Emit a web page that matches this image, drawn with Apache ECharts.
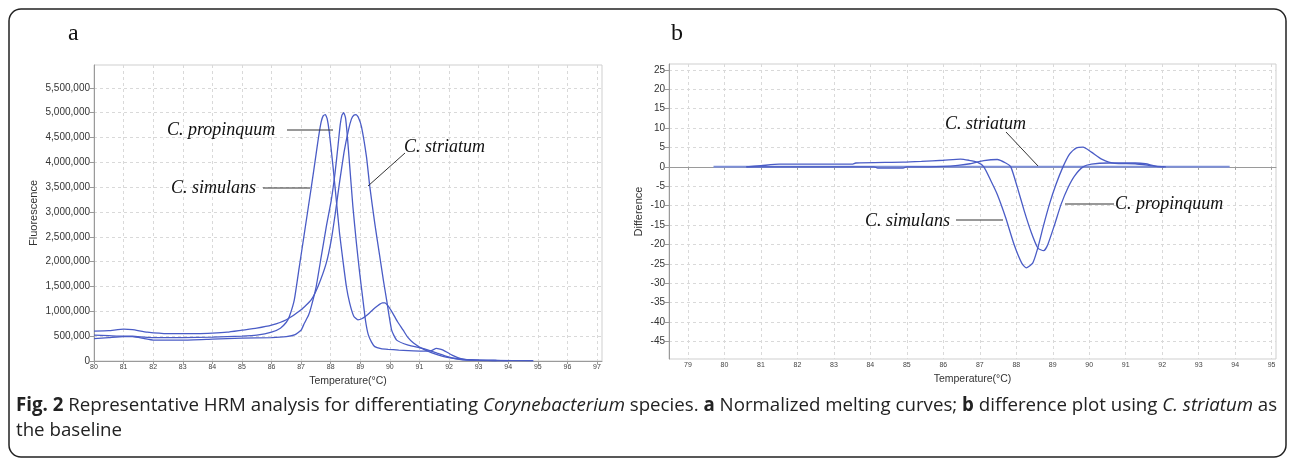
<!DOCTYPE html>
<html><head><meta charset="utf-8">
<script src="https://cdn.jsdelivr.net/npm/echarts@6/dist/echarts.min.js"></script>
<style>html,body{margin:0;padding:0;background:#fff}#c{width:1292px;height:459px}</style>
</head><body><div id="c"></div>
<script>
// ---- Panel a: melting curves (temperature °C, fluorescence) ----
const xTicksA = [80,81,82,83,84,85,86,87,88,89,90,91,92,93,94,95,96,97];
const yTicksA = [0,500000,1000000,1500000,2000000,2500000,3000000,3500000,4000000,4500000,5000000,5500000];
// values in millions
const simulansA = [[80,0.52],[80.5,0.51],[81,0.50],[81.3,0.50],[81.7,0.48],[82,0.47],[83,0.47],[84,0.48],[85,0.50],[85.5,0.52],[86,0.58],[86.3,0.66],[86.5,0.78],[86.6,0.89],[86.77,1.23],[86.94,1.90],[87.11,2.57],[87.34,3.48],[87.51,4.18],[87.6,4.55],[87.68,4.82],[87.75,4.94],[87.82,4.96],[87.88,4.88],[87.95,4.62],[88.08,3.91],[88.19,3.24],[88.3,2.57],[88.41,2.04],[88.53,1.5],[88.64,1.17],[88.78,0.90],[88.92,0.83],[89.05,0.85],[89.2,0.91],[89.35,0.99],[89.5,1.07],[89.65,1.14],[89.75,1.17],[89.83,1.17],[89.95,1.10],[90.1,0.96],[90.25,0.80],[90.45,0.62],[90.6,0.48],[90.8,0.36],[91.0,0.28],[91.2,0.22],[91.4,0.17],[91.65,0.12],[91.9,0.08],[92.2,0.05],[92.5,0.03],[93.0,0.015],[93.6,0.01]];
const propinquumA = [[80,0.45],[80.5,0.47],[81,0.49],[81.3,0.49],[81.7,0.45],[82,0.42],[83,0.42],[84,0.44],[85,0.46],[86,0.47],[86.5,0.49],[86.8,0.53],[87.0,0.62],[87.11,0.76],[87.25,0.92],[87.34,1.09],[87.51,1.50],[87.68,2.10],[87.85,2.70],[88.02,3.24],[88.15,3.8],[88.25,4.35],[88.32,4.75],[88.38,4.95],[88.44,5.0],[88.5,4.9],[88.56,4.55],[88.64,3.95],[88.75,3.11],[88.87,2.37],[88.98,1.77],[89.09,1.23],[89.18,0.8],[89.27,0.53],[89.38,0.38],[89.49,0.29],[89.7,0.25],[89.94,0.235],[90.3,0.22],[90.62,0.21],[91.07,0.20],[91.4,0.21],[91.57,0.255],[91.7,0.24],[91.8,0.22],[92.1,0.12],[92.4,0.05],[92.8,0.02],[93.5,0.01],[94.85,0.005]];
const striatumA = [[80,0.60],[80.5,0.61],[81,0.64],[81.3,0.63],[81.8,0.58],[82.5,0.55],[83.5,0.55],[84,0.56],[84.5,0.58],[85,0.62],[85.5,0.66],[86,0.72],[86.5,0.83],[87,1.03],[87.34,1.23],[87.57,1.50],[87.85,1.97],[88.02,2.44],[88.15,2.95],[88.3,3.6],[88.45,4.2],[88.6,4.65],[88.7,4.87],[88.78,4.95],[88.86,4.96],[88.94,4.9],[89.04,4.72],[89.21,4.11],[89.32,3.52],[89.49,2.77],[89.66,2.10],[89.78,1.63],[89.89,1.23],[90.06,0.62],[90.23,0.42],[90.62,0.32],[91.07,0.26],[91.3,0.22],[91.6,0.16],[91.95,0.09],[92.3,0.04],[92.6,0.02],[93.5,0.01],[94.0,0.005]];

// ---- Panel b: difference plot (baseline C. striatum) ----
const xTicksB = [79,80,81,82,83,84,85,86,87,88,89,90,91,92,93,94,95];
const yTicksB = [-45,-40,-35,-30,-25,-20,-15,-10,-5,0,5,10,15,20,25];
const striatumB = [[79.7,0],[93.85,0]];
const simulansB = [[80.6,0],[81.0,0.3],[81.5,0.7],[83.5,0.7],[83.6,1.0],[84.9,1.2],[85.4,1.4],[86.0,1.7],[86.47,2.0],[86.7,1.7],[86.93,1.2],[87.11,0],[87.3,-3.5],[87.48,-7.1],[87.71,-13.1],[87.94,-20.0],[88.15,-24.8],[88.27,-26.0],[88.45,-24.8],[88.59,-20.9],[88.73,-15.7],[88.91,-9.6],[89.09,-4.5],[89.28,0],[89.46,3.3],[89.65,4.9],[89.83,5.1],[90.06,3.8],[90.34,2.0],[90.7,0.9],[91.26,0.8],[91.63,0.4],[91.9,0.05],[92.05,0]];
const propinquumB = [[80.6,0],[81,0],[84.1,0],[84.2,-0.3],[84.9,-0.3],[85.0,0],[85.6,0],[86,0.1],[86.4,0.4],[86.73,0.8],[87.11,1.6],[87.48,1.9],[87.71,1.0],[87.85,0],[88.03,-5.3],[88.22,-11.4],[88.4,-16.6],[88.59,-20.9],[88.75,-21.6],[88.86,-20.1],[89.05,-14.9],[89.23,-9.6],[89.42,-5.3],[89.6,-2.3],[89.83,0],[90.06,0.7],[90.52,1.0],[91.26,1.0],[91.54,0.8],[91.81,0.2],[92.1,0]];

const M = 1000000;
const toM = arr => arr.map(p => [p[0], p[1] * M]);

const LINE = '#4a5cc6';
const gridLine = { show: true, lineStyle: { color: '#d9d9d9', type: [3, 3], width: 1 } };
const axisLineS = { show: true, lineStyle: { color: '#9a9a9a', width: 1 } };

function xAxisDef(gridIndex, min, max, ticks) {
  return {
    type: 'value', gridIndex, min, max,
    name: 'Temperature(°C)', nameLocation: 'middle', nameGap: 15,
    nameTextStyle: { fontFamily: 'Liberation Sans', fontSize: 10.5, color: '#333' },
    axisLine: axisLineS,
    axisTick: { show: true, length: 3, lineStyle: { color: '#9a9a9a' }, customValues: ticks },
    axisLabel: { fontFamily: 'Liberation Sans', fontSize: 7, color: '#444', margin: 3, customValues: ticks },
    splitLine: gridLine
  };
}

const option = {
  animation: false,
  backgroundColor: '#fff',
  grid: [
    { left: 94, top: 65, width: 508, height: 296, show: true, borderColor: '#cfcfcf', borderWidth: 1, backgroundColor: '#fff' },
    { left: 669, top: 64, width: 607, height: 295, show: true, borderColor: '#cfcfcf', borderWidth: 1, backgroundColor: '#fff' }
  ],
  xAxis: [
    xAxisDef(0, 80, 97.17, xTicksA),
    xAxisDef(1, 78.48, 95.12, xTicksB)
  ],
  yAxis: [
    {
      type: 'value', gridIndex: 0, min: 0, max: 5960000,
      name: 'Fluorescence', nameLocation: 'middle', nameGap: 55,
      nameTextStyle: { fontFamily: 'Liberation Sans', fontSize: 11, color: '#333' },
      axisLine: axisLineS,
      axisTick: { show: true, length: 4, lineStyle: { color: '#9a9a9a' }, customValues: yTicksA },
      axisLabel: { fontFamily: 'Liberation Sans', fontSize: 10, color: '#333', margin: 4, customValues: yTicksA,
        formatter: v => Math.round(v).toLocaleString('en-US') },
      splitLine: gridLine
    },
    {
      type: 'value', gridIndex: 1, min: -49.5, max: 26.5,
      name: 'Difference', nameLocation: 'middle', nameGap: 25,
      nameTextStyle: { fontFamily: 'Liberation Sans', fontSize: 11, color: '#333' },
      axisLine: axisLineS,
      axisTick: { show: true, length: 4, lineStyle: { color: '#9a9a9a' }, customValues: yTicksB },
      axisLabel: { fontFamily: 'Liberation Sans', fontSize: 10, color: '#333', margin: 4, customValues: yTicksB },
      splitLine: gridLine
    }
  ],
  series: [
    { name: 'C. simulans', type: 'line', xAxisIndex: 0, yAxisIndex: 0, data: toM(simulansA), showSymbol: false, smooth: 0.15, lineStyle: { color: LINE, width: 1.3 } },
    { name: 'C. propinquum', type: 'line', xAxisIndex: 0, yAxisIndex: 0, data: toM(propinquumA), showSymbol: false, smooth: 0.15, lineStyle: { color: LINE, width: 1.3 } },
    { name: 'C. striatum', type: 'line', xAxisIndex: 0, yAxisIndex: 0, data: toM(striatumA), showSymbol: false, smooth: 0.15, lineStyle: { color: LINE, width: 1.3 } },
    { name: 'C. striatum (baseline)', type: 'line', xAxisIndex: 1, yAxisIndex: 1, data: striatumB, showSymbol: false, lineStyle: { color: '#7d8fd8', width: 2 } },
    { name: 'C. simulans diff', type: 'line', xAxisIndex: 1, yAxisIndex: 1, data: simulansB, showSymbol: false, smooth: 0.2, lineStyle: { color: LINE, width: 1.3 } },
    { name: 'C. propinquum diff', type: 'line', xAxisIndex: 1, yAxisIndex: 1, data: propinquumB, showSymbol: false, smooth: 0.2, lineStyle: { color: LINE, width: 1.3 } }
  ],
  graphic: [
    { type: 'rect', shape: { x: 9, y: 9, width: 1277, height: 448, r: 12 }, style: { fill: 'none', stroke: '#222', lineWidth: 1.5 }, silent: true, z: 100 },
    { type: 'text', left: 68, top: 22, style: { text: 'a', font: '24px "Liberation Serif"', fill: '#111' } },
    { type: 'text', left: 671, top: 22, style: { text: 'b', font: '24px "Liberation Serif"', fill: '#111' } },
    // annotations panel a
    { type: 'text', x: 167, y: 130, style: { text: 'C. propinquum', font: 'italic 18px "Liberation Serif"', fill: '#111', verticalAlign: 'middle' }, z: 50 },
    { type: 'line', shape: { x1: 287, y1: 130, x2: 333, y2: 130 }, style: { stroke: '#333', lineWidth: 1 }, z: 50 },
    { type: 'text', x: 171, y: 188, style: { text: 'C. simulans', font: 'italic 18px "Liberation Serif"', fill: '#111', verticalAlign: 'middle' }, z: 50 },
    { type: 'line', shape: { x1: 263, y1: 188, x2: 310, y2: 188 }, style: { stroke: '#333', lineWidth: 1 }, z: 50 },
    { type: 'text', x: 404, y: 147, style: { text: 'C. striatum', font: 'italic 18px "Liberation Serif"', fill: '#111', verticalAlign: 'middle' }, z: 50 },
    { type: 'line', shape: { x1: 405, y1: 153, x2: 368, y2: 186 }, style: { stroke: '#333', lineWidth: 1 }, z: 50 },
    // annotations panel b
    { type: 'text', x: 945, y: 124, style: { text: 'C. striatum', font: 'italic 18px "Liberation Serif"', fill: '#111', verticalAlign: 'middle' }, z: 50 },
    { type: 'line', shape: { x1: 1006, y1: 132, x2: 1038, y2: 166 }, style: { stroke: '#333', lineWidth: 1 }, z: 50 },
    { type: 'text', x: 1115, y: 204, style: { text: 'C. propinquum', font: 'italic 18px "Liberation Serif"', fill: '#111', verticalAlign: 'middle' }, z: 50 },
    { type: 'line', shape: { x1: 1065, y1: 204, x2: 1114, y2: 204 }, style: { stroke: '#333', lineWidth: 1 }, z: 50 },
    { type: 'text', x: 865, y: 221, style: { text: 'C. simulans', font: 'italic 18px "Liberation Serif"', fill: '#111', verticalAlign: 'middle' }, z: 50 },
    { type: 'line', shape: { x1: 956, y1: 220, x2: 1003, y2: 220 }, style: { stroke: '#333', lineWidth: 1 }, z: 50 },
    // caption
    { type: 'text', x: 16, y: 406, style: {
        text: '{b|Fig. 2} Representative HRM analysis for differentiating {i|Corynebacterium} species. {b|a} Normalized melting curves; {b|b} difference plot using {i|C. striatum} as',
        font: '18.7px "Open Sans"', fill: '#222', verticalAlign: 'middle',
        rich: { b: { fontWeight: 'bold', fontFamily: 'Open Sans', fontSize: 18.7, fill: '#222' }, i: { fontStyle: 'italic', fontFamily: 'Open Sans', fontSize: 18.7, fill: '#222' } } } },
    { type: 'text', x: 16, y: 431, style: { text: 'the baseline', font: '18.7px "Open Sans"', fill: '#222', verticalAlign: 'middle' } }
  ]
};
const chart = echarts.init(document.getElementById('c'), null, { renderer: 'canvas' });
chart.setOption(option);
</script></body></html>
